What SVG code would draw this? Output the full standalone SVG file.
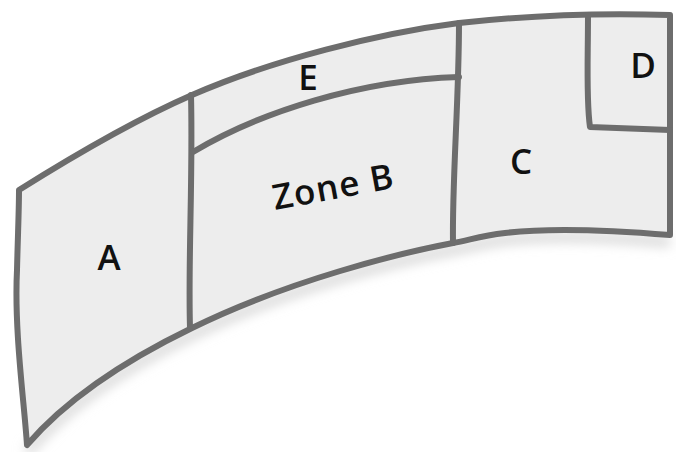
<svg xmlns="http://www.w3.org/2000/svg" width="676" height="452" viewBox="0 0 676 452">
  <style>
    .zone { fill: #ededed; stroke: none; }
    .edge { fill: none; stroke: #6d6d6d; stroke-width: 6; stroke-linecap: round; stroke-linejoin: round; }
    .label { font-family: "Open Sans", "Liberation Sans", sans-serif; font-size: 35px; font-weight: 600; fill: #111; text-anchor: middle; }
  </style>
  <defs>
    <filter id="soft" x="-10%" y="-20%" width="120%" height="140%">
      <feGaussianBlur stdDeviation="6"/>
    </filter>
  </defs>
  <rect width="676" height="452" fill="#ffffff"/>

  <!-- faint shadow under the lower curve -->
  <path d="M670,242 C610,237 545,235 505,240 C480,243 470,247 453,250 C400,260 290,287 192,335 C130,365 70,402 27,452" fill="none" stroke="#d8d8d8" stroke-width="10" filter="url(#soft)"/>

  <!-- curved band outline with fill -->
  <g id="band">
    <path class="zone" d="M19,190 C70,158 130,122 192,95 C272,60 380,33 459,23 C540,14 610,13 670,15 L670,235 C610,230 545,228 505,233 C480,236 470,240 453,243 C400,253 290,280 192,328 C130,358 70,395 27,445 C24,400 14,330 17,270 C18,230 19,210 19,190 Z"/>
    <path class="edge" d="M19,190 C70,158 130,122 192,95 C272,60 380,33 459,23 C540,14 610,13 670,15 L670,235 C610,230 545,228 505,233 C480,236 470,240 453,243 C400,253 290,280 192,328 C130,358 70,395 27,445 C24,400 14,330 17,270 C18,230 19,210 19,190 Z"/>
  </g>

  <!-- zone dividers -->
  <g id="connectors">
    <path class="edge" d="M191,95 C193,180 188,260 190,328"/>
    <path class="edge" d="M193,152 C260,112 360,80 459,77"/>
    <path class="edge" d="M459,23 C459,100 452,180 453,243"/>
    <path class="edge" d="M588,15 C588,60 586,100 590,127 L670,130"/>
  </g>

  <g id="zone-a"><text class="label" x="109" y="270">A</text></g>
  <g id="zone-b"><text class="label" x="335" y="199" transform="rotate(-10.5 335 199)" textLength="122" lengthAdjust="spacing">Zone B</text></g>
  <g id="zone-e"><text class="label" x="308" y="90">E</text></g>
  <g id="zone-c"><text class="label" x="521" y="174">C</text></g>
  <g id="zone-d"><text class="label" x="643" y="78">D</text></g>
</svg>
